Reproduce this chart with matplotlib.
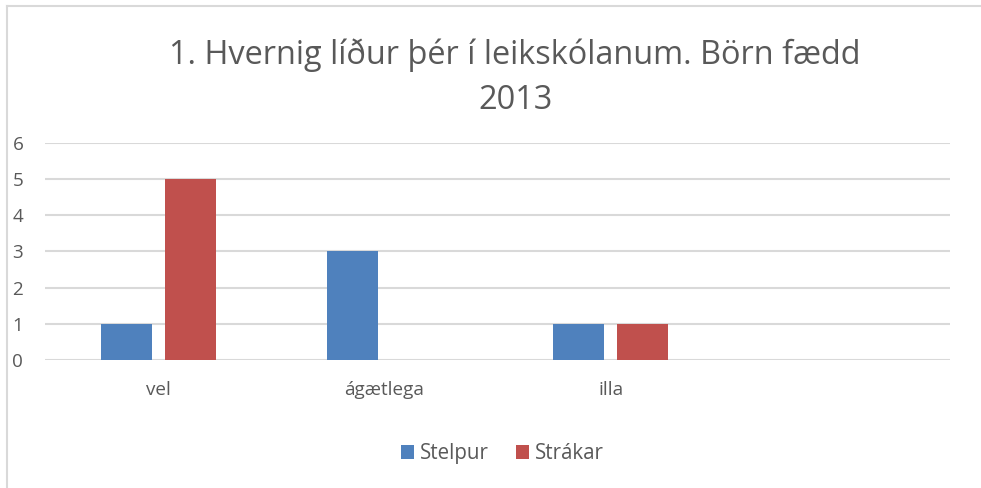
import matplotlib.pyplot as plt
from matplotlib.lines import Line2D
import numpy as np

# data
categories = ["vel", "ágætlega", "illa", ""]
stelpur = [1, 3, 1, np.nan]
strakar = [5, np.nan, 1, np.nan]
series_names = ["Stelpur", "Strákar"]
yticks = [0, 1, 2, 3, 4, 5, 6]
title = "1. Hvernig líður þér í leikskólanum. Börn fædd\n2013"

plt.rcParams['font.family'] = ['Open Sans', 'DejaVu Sans']
txt = "#595959"

fig = plt.figure(figsize=(9.81, 4.88), dpi=100)
ax = fig.add_axes([0.0459, 0.2623, 0.9225, 0.4447])

x = np.arange(len(categories))
w = 0.225
ax.bar(x - 0.1415, stelpur, w, color="#4F81BD", label=series_names[0], zorder=3)
ax.bar(x + 0.1415, strakar, w, color="#C0504D", label=series_names[1], zorder=3)

ax.set_xlim(-0.5, len(categories) - 0.5)
ax.set_ylim(0, 6)
ax.set_yticks(yticks)
ax.set_xticks(x)
ax.set_xticklabels(categories)
ax.yaxis.grid(True, color="#D9D9D9", linewidth=1.5, zorder=0)
for s in ax.spines.values():
    s.set_visible(False)
ax.tick_params(axis="both", length=0, labelsize=13.6, colors=txt)
ax.tick_params(axis="x", pad=15)
for lab in ax.get_yticklabels():
    lab.set_horizontalalignment("left")
ax.yaxis.set_tick_params(pad=23.5)

fig.text(0.525, 0.841, title, ha="center", va="center", fontsize=23.4,
         color=txt, linespacing=1.45)

ax.legend(loc="center", bbox_to_anchor=(0.512, 0.07), bbox_transform=fig.transFigure,
          ncol=2, frameon=False, fontsize=14.8, labelcolor=txt, handlelength=0.63,
          handleheight=0.63, handletextpad=0.3, columnspacing=1.3)

# chart border (left and top only visible)
fig.add_artist(Line2D([0.0071, 0.0071], [0.0, 0.988], transform=fig.transFigure,
                      color="#D9D9D9", linewidth=1.5))
fig.add_artist(Line2D([0.0071, 1.0], [0.988, 0.988], transform=fig.transFigure,
                      color="#D9D9D9", linewidth=1.5))

plt.savefig("out.png", dpi=100)
